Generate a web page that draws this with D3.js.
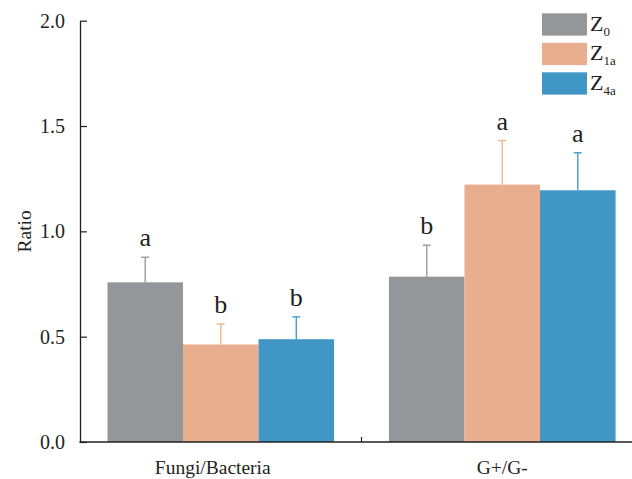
<!DOCTYPE html>
<html>
<head>
<meta charset="utf-8">
<script src="https://cdn.jsdelivr.net/npm/d3@7"></script>
<style>
  html, body { margin: 0; padding: 0; background: #fff; }
</style>
</head>
<body>
<div id="chart"></div>
<script>
// data
const categories = ["Fungi/Bacteria", "G+/G-"];
const series = ["Z0", "Z1a", "Z4a"];
const seriesSub = ["0", "1a", "4a"];
const means = {
  "Z0":  [0.758, 0.785],
  "Z1a": [0.463, 1.222],
  "Z4a": [0.488, 1.195]
};
const errTop = {
  "Z0":  [0.877, 0.934],
  "Z1a": [0.560, 1.431],
  "Z4a": [0.594, 1.373]
};
const letters = {
  "Z0":  ["a", "b"],
  "Z1a": ["b", "a"],
  "Z4a": ["b", "a"]
};
const yTicks = [0, 0.5, 1.0, 1.5, 2.0];
const colors = ["#959699", "#e8ae8d", "#4097c6"];

const W = 632, H = 479;
const x0 = 80, y0 = 442;
const serif = "'Liberation Serif', 'Times New Roman', Times, serif";

const svg = d3.select("#chart").append("svg")
  .attr("width", W)
  .attr("height", H);

const y = d3.scaleLinear().domain([0, 2]).range([y0, 20.7]);

const x = d3.scaleBand()
  .domain(categories)
  .range([x0, 643])
  .paddingInner(0.195)
  .paddingOuter(0.0975);

const xInner = d3.scaleBand()
  .domain(series)
  .range([0, x.bandwidth()])
  .padding(0);

const color = d3.scaleOrdinal().domain(series).range(colors);

let rows = [];
categories.forEach((c, ci) => {
  series.forEach(s => {
    rows.push({ cat: c, s: s, v: means[s][ci], e: errTop[s][ci], l: letters[s][ci] });
  });
});

// bars
svg.append("g")
  .selectAll("rect")
  .data(rows)
  .enter()
  .append("rect")
  .attr("x", d => x(d.cat) + xInner(d.s))
  .attr("y", d => y(d.v))
  .attr("width", xInner.bandwidth())
  .attr("height", d => y(0) - y(d.v))
  .attr("fill", d => color(d.s));

// error bars (upper only)
let err = svg.append("g")
  .selectAll("g")
  .data(rows)
  .enter()
  .append("g")
  .attr("transform", d => "translate(" + (x(d.cat) + xInner(d.s) + xInner.bandwidth() / 2) + ",0)")
  .attr("stroke", d => d3.color(color(d.s)).brighter(0.1))
  .attr("stroke-width", 1.4);

err.append("line")
  .attr("y1", d => y(d.v))
  .attr("y2", d => y(d.e));

err.append("line")
  .attr("x1", -4).attr("x2", 4)
  .attr("y1", d => y(d.e))
  .attr("y2", d => y(d.e));

// significance letters
svg.append("g")
  .selectAll("text")
  .data(rows)
  .enter()
  .append("text")
  .attr("x", d => x(d.cat) + xInner(d.s) + xInner.bandwidth() / 2)
  .attr("y", d => y(d.e) - 11)
  .attr("text-anchor", "middle")
  .style("font-family", serif)
  .style("font-size", "26px")
  .style("fill", "#231f20")
  .text(d => d.l);

// y axis
let yAxis = svg.append("g")
  .attr("transform", "translate(" + x0 + ",0)")
  .call(d3.axisLeft(y)
    .tickValues(yTicks)
    .tickFormat(d3.format(".1f"))
    .tickSizeInner(-7)
    .tickSizeOuter(0)
    .tickPadding(15));

yAxis.select(".domain").attr("stroke", "#231f20").attr("stroke-width", 1.3);
yAxis.selectAll(".tick line").attr("stroke", "#231f20").attr("stroke-width", 1.2);
yAxis.selectAll("text")
  .style("font-family", serif)
  .style("font-size", "20px")
  .style("fill", "#231f20");

svg.append("text")
  .attr("transform", "translate(31," + ((y(0) + y(2)) / 2) + ") rotate(-90)")
  .attr("text-anchor", "middle")
  .style("font-family", serif)
  .style("font-size", "19.5px")
  .style("fill", "#231f20")
  .text("Ratio");

// x axis
let xAxis = svg.append("g")
  .attr("transform", "translate(0," + y0 + ")");

xAxis.append("line")
  .attr("x1", x0 - 0.6)
  .attr("x2", W)
  .attr("stroke", "#231f20")
  .attr("stroke-width", 1.3);

// boundary tick between the two groups
let bounds = categories.slice(1).map(c => x(c) - x.step() * x.paddingInner() / 2);
xAxis.selectAll(".xtick")
  .data(bounds)
  .enter()
  .append("line")
  .attr("class", "xtick")
  .attr("x1", d => d).attr("x2", d => d)
  .attr("y1", 0).attr("y2", -5)
  .attr("stroke", "#231f20")
  .attr("stroke-width", 1.2);

// the first label sits a little left of its group in the original
xAxis.selectAll(".xlabel")
  .data(categories)
  .enter()
  .append("text")
  .attr("class", "xlabel")
  .attr("x", d => x(d) + x.bandwidth() / 2)
  .attr("dx", (d, i) => i === 0 ? -8 : 0)
  .attr("y", 32)
  .attr("text-anchor", "middle")
  .style("font-family", serif)
  .style("font-size", "19.5px")
  .style("fill", "#231f20")
  .text(d => d);

// legend
let legend = svg.append("g")
  .attr("transform", "translate(542,13.3)");

let item = legend.selectAll("g")
  .data(series)
  .enter()
  .append("g")
  .attr("transform", (d, i) => "translate(0," + (i * 29.5) + ")");

item.append("rect")
  .attr("width", 45)
  .attr("height", 22.3)
  .attr("fill", d => color(d));

let lt = item.append("text")
  .attr("x", 48)
  .attr("y", 17.5)
  .style("font-family", serif)
  .style("font-size", "22px")
  .style("fill", "#231f20");

lt.append("tspan").text("Z");
lt.append("tspan")
  .attr("dy", 5)
  .style("font-size", "13px")
  .text((d, i) => seriesSub[i]);
</script>
</body>
</html>
